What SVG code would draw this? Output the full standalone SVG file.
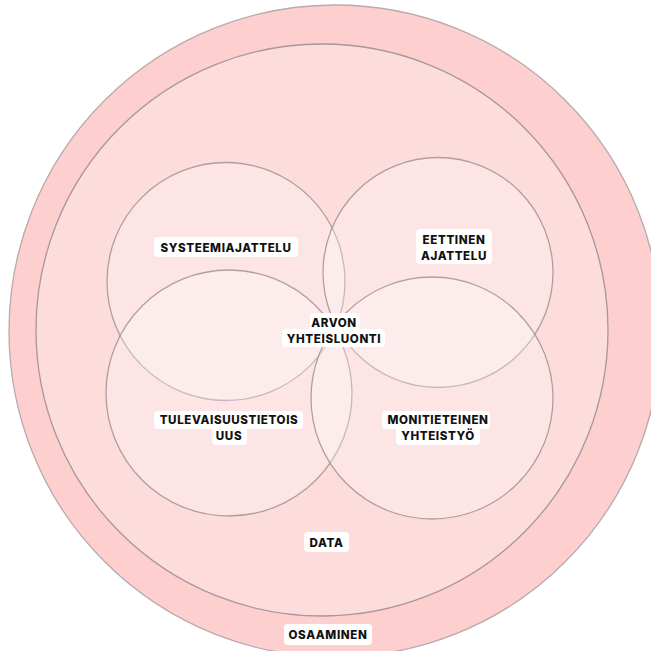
<svg xmlns="http://www.w3.org/2000/svg" width="651" height="651" viewBox="0 0 651 651">
<style>
.ring{stroke:#a8969a;stroke-width:1.3}
.petal{fill:#ffffff;fill-opacity:0.28;stroke:#a8969a;stroke-width:1.3;stroke-opacity:0.9}
.lbl{fill:#ffffff}
.t{font-family:Inter,"Noto Sans","Liberation Sans",sans-serif;font-weight:800;font-size:11.6px;letter-spacing:0.6px;fill:#111111;text-anchor:middle;dominant-baseline:central}
</style>
<rect width="651" height="651" fill="#ffffff"/>
<g id="osaaminen">
<circle cx="335" cy="331" r="326" fill="#fdcfcf" stroke="#b9aaab" stroke-width="1.3"/>
</g>
<g id="data">
<circle cx="322" cy="330" r="286" fill="#fddcdc" class="ring"/>
</g>
<g id="systeemiajattelu"><circle cx="226" cy="281.5" r="119" class="petal"/></g>
<g id="eettinen"><circle cx="438" cy="272.5" r="115" class="petal"/></g>
<g id="tulevaisuus"><circle cx="229" cy="393" r="123" class="petal"/></g>
<g id="monitieteinen"><circle cx="432" cy="398" r="121" class="petal"/></g>
<g id="labels">
<g id="l-systeemi"><rect x="154" y="237" width="144" height="20" rx="4" class="lbl"/><text x="226" y="247.5" class="t">SYSTEEMIAJATTELU</text></g>
<g id="l-eettinen"><rect x="416" y="229" width="76" height="35" rx="4" class="lbl"/><text x="454" y="239.5" class="t">EETTINEN</text><text x="454" y="255.5" class="t">AJATTELU</text></g>
<g id="l-arvon"><rect x="310" y="313" width="50" height="19" rx="4" class="lbl"/><rect x="282" y="329" width="103" height="18" rx="4" class="lbl"/><text x="334" y="322.5" class="t">ARVON</text><text x="334" y="338.5" class="t">YHTEISLUONTI</text></g>
<g id="l-tulevaisuus"><rect x="154" y="411" width="149" height="18" rx="4" class="lbl"/><rect x="212" y="427" width="35" height="18" rx="4" class="lbl"/><text x="229" y="419.5" class="t">TULEVAISUUSTIETOIS</text><text x="229" y="435.5" class="t">UUS</text></g>
<g id="l-monitieteinen"><rect x="382" y="411" width="108" height="18" rx="4" class="lbl"/><rect x="396" y="427" width="84" height="18" rx="4" class="lbl"/><text x="438" y="419.5" class="t">MONITIETEINEN</text><text x="438" y="435.5" class="t">YHTEISTYÖ</text></g>
<g id="l-data"><rect x="304" y="532" width="45" height="20" rx="4" class="lbl"/><text x="326.5" y="542.5" class="t">DATA</text></g>
<g id="l-osaaminen"><rect x="284" y="624" width="88" height="21" rx="4" class="lbl"/><text x="328" y="634.5" class="t">OSAAMINEN</text></g>
</g>
</svg>
